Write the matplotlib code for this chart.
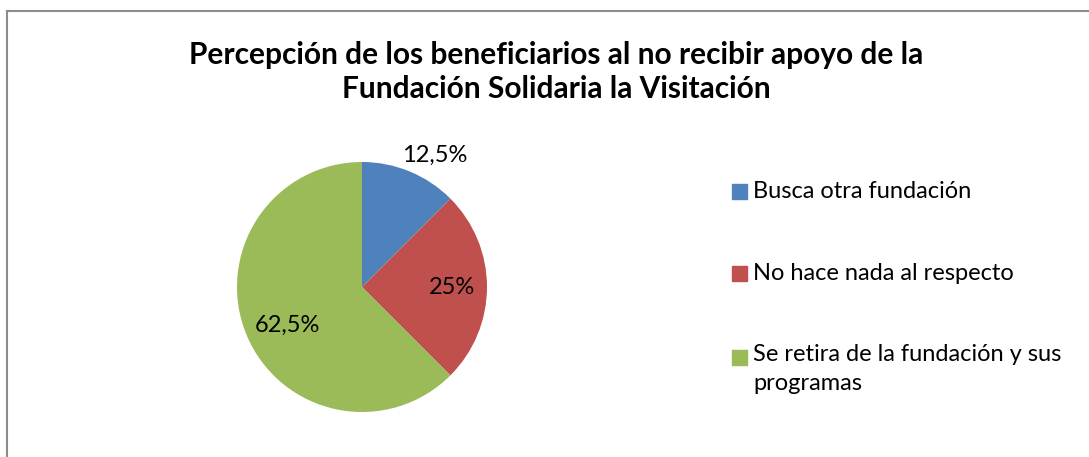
import matplotlib as mpl
mpl.use('Agg')
import matplotlib.pyplot as plt
from matplotlib.patches import Rectangle
from matplotlib.lines import Line2D

title = "Percepción de los beneficiarios al no recibir apoyo de la\nFundación Solidaria la Visitación"
categories = ["Busca otra fundación", "No hace nada al respecto",
              "Se retira de la fundación y sus\nprogramas"]
values = [12.5, 25, 62.5]
value_labels = ["12,5%", "25%", "62,5%"]
colors = ["#4F81BD", "#C0504D", "#9BBB59"]

plt.rcParams['font.family'] = ['Lato', 'DejaVu Sans']

W, H = 1089, 457
fig = plt.figure(figsize=(W / 100, H / 100), dpi=100)

# chart frame (only left and top edges visible in the crop)
fig.add_artist(Line2D([7 / W, 7 / W], [0, 1 - 10.5 / H], color="#8c8c8c", lw=1.5))
fig.add_artist(Line2D([7 / W, 1], [1 - 10.5 / H, 1 - 10.5 / H], color="#8c8c8c", lw=1.5))

fig.text(556 / W, 1 - 72 / H, title, ha="center", va="center",
         fontsize=21.5, fontweight="bold", linespacing=1.3)

# pie: center (362, 287) px, radius 125 px
cx, cy, r = 362, 287, 125
ax = fig.add_axes([(cx - r) / W, (H - cy - r) / H, 2 * r / W, 2 * r / H])
wedges, texts = ax.pie(values, colors=colors, startangle=90, counterclock=False,
                       labels=value_labels, labeldistance=0.72,
                       textprops=dict(fontsize=17, ha="center", va="center"))
ax.set_xlim(-1, 1)
ax.set_ylim(-1, 1)
ax.set_aspect("equal")
# first label sits outside the slice
texts[0].set_position((0.58, 1.055))
texts[2].set_position((-0.6, -0.31))

# legend
rows = [191, 273, 357]
for y, lab, c in zip(rows, categories, colors):
    fig.add_artist(Rectangle((732 / W, 1 - (y + 7.5) / H), 15 / W, 15 / H,
                             color=c, transform=fig.transFigure))
    if "\n" in lab:
        fig.text(753 / W, 1 - (y - 13) / H, lab, ha="left", va="top",
                 fontsize=17, linespacing=1.45)
    else:
        fig.text(753 / W, 1 - y / H, lab, ha="left", va="center", fontsize=17)

fig.savefig("out.png", dpi=100, facecolor="white")
